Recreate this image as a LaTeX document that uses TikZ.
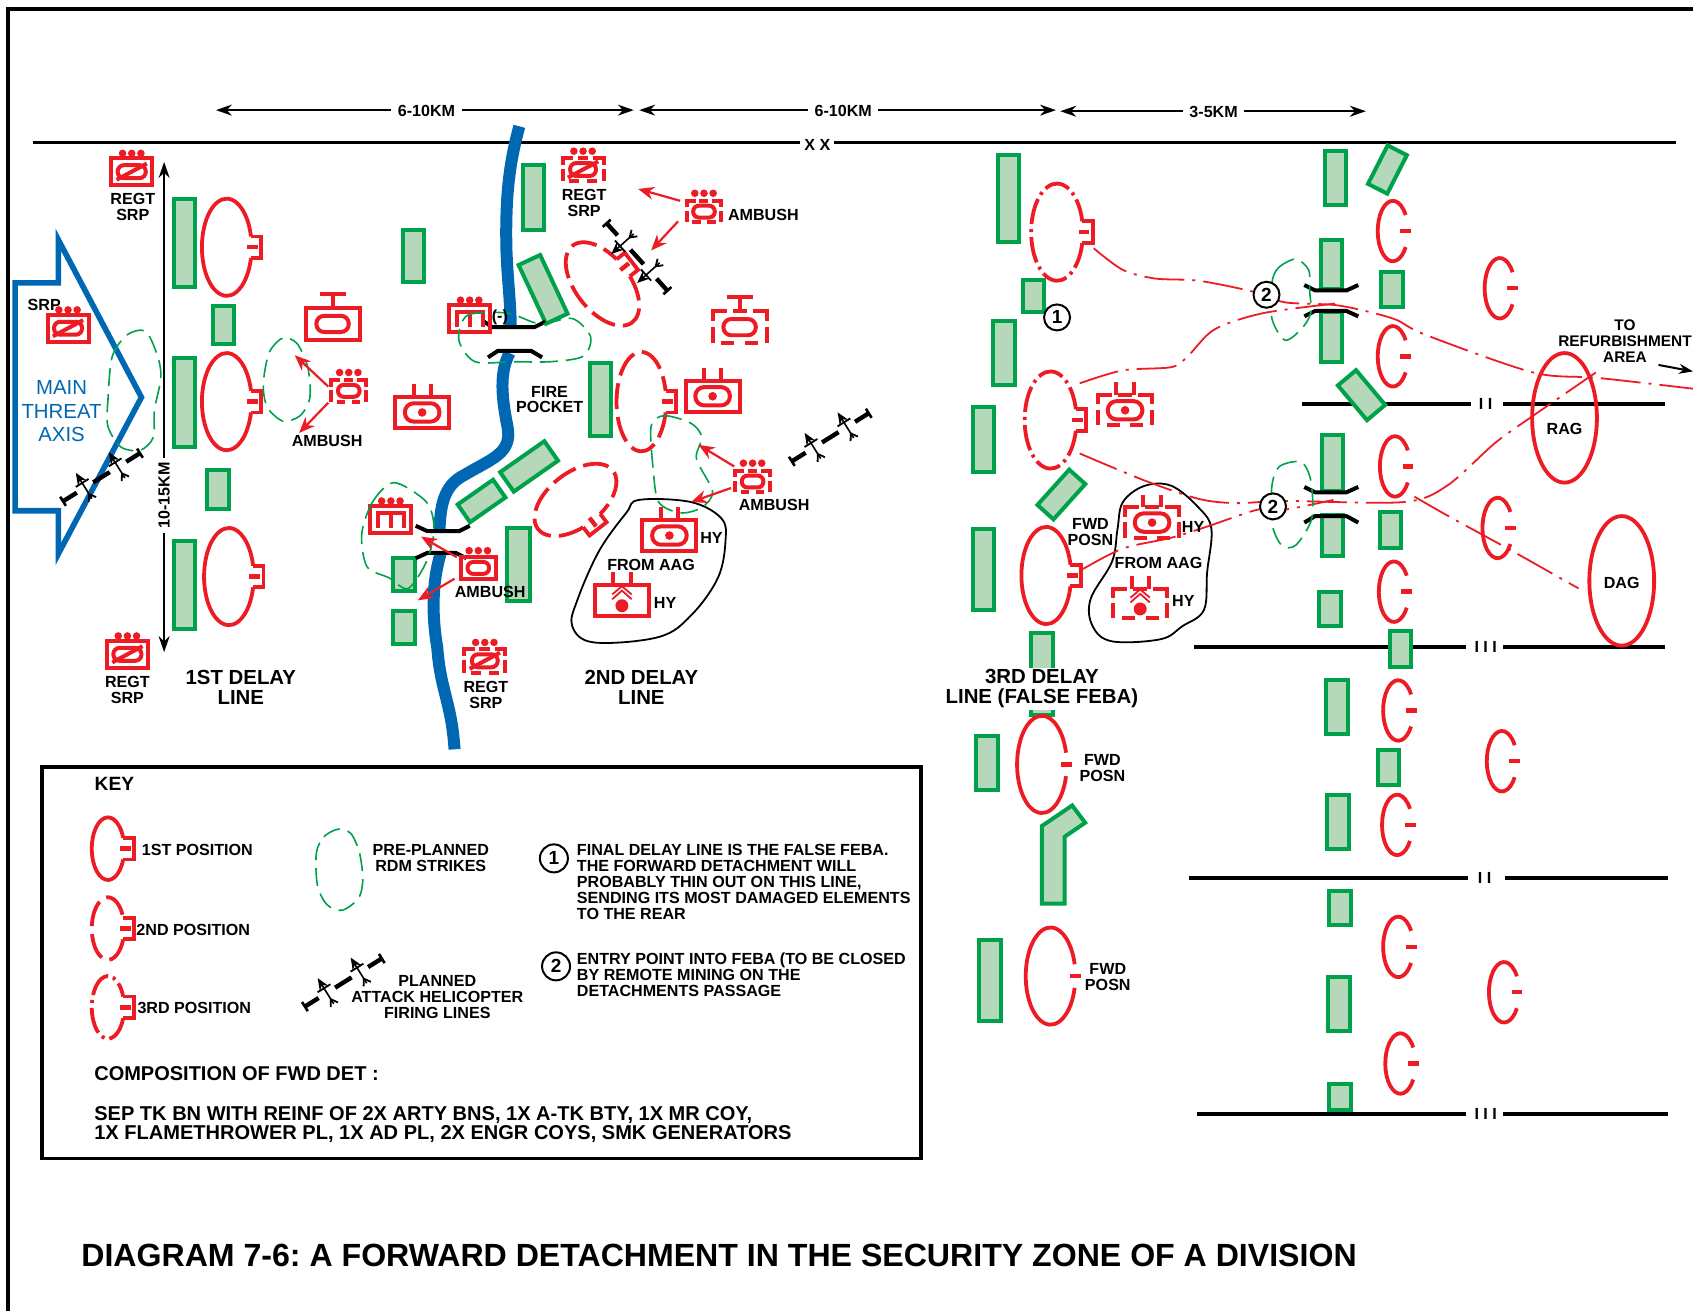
\documentclass[tikz,border=0pt]{standalone}
\usepackage{fontspec}
\setmainfont{Liberation Sans}
\usetikzlibrary{arrows.meta}
\definecolor{rr}{HTML}{ED1C24}
\definecolor{gg}{HTML}{00A14B}
\definecolor{gf}{HTML}{B6D8BA}
\definecolor{bb}{HTML}{0067B3}
\tikzset{
  gb/.style={draw=gg,fill=gf,line width=2pt},
  posline/.style={draw=rr,line width=1.9pt},
  soldash/.style={},
  pdash/.style={dash pattern=on 13pt off 4pt},
  pdot/.style={dash pattern=on 13pt off 2.5pt on 1.5pt off 2.5pt},
  route/.style={draw=rr,line width=.9pt,dash pattern=on 20pt off 4pt on 1.5pt off 4pt},
  rdm/.style={draw=gg,line width=.8pt,dash pattern=on 9pt off 4pt},
  blob/.style={draw=black,line width=.9pt},
  iconl/.style={draw=rr,line width=2pt},
  rarrow/.style={draw=rr,line width=1.1pt,-{Stealth[length=8pt,width=6.5pt]}},
  lab/.style={font=\bfseries\fontsize{8.05}{7.95}\selectfont,align=center,inner sep=0pt,text=black},
  bigl/.style={font=\bfseries\fontsize{10.2}{10}\selectfont,align=center,inner sep=0pt},
  dim/.style={draw=black,line width=.85pt},
  phase/.style={draw=black,line width=1.9pt},
  bridge/.style={draw=black,line width=2pt,line join=round},
  num/.style={draw=black,circle,fill=white,line width=1pt,inner sep=0pt,minimum size=13pt,font=\bfseries\fontsize{9.5}{9.5}\selectfont},
  river/.style={draw=bb,line width=6pt},
}
\newcommand\gbx[5]{\draw[gb,shift={(#1,#2)},rotate=#5] ({-#3/2},{-#4/2}) rectangle ({#3/2},{#4/2});}
\newcommand\posn[6]{\begin{scope}[shift={(#1,#2)},rotate=#5]
  \pgfmathsetmacro\ang{asin(10/#4)}
  \draw[posline,#6] ({#3*cos(\ang)},{10}) arc[x radius=#3,y radius=#4,start angle=\ang,delta angle={360-2*\ang}];
  \draw[posline] ({#3*cos(\ang)},-10) -- ({#3+9},-10) -- ({#3+9},10) -- ({#3*cos(\ang)},10);
  \draw[posline,line width=2.2pt] ({#3-4},0) -- ({#3+6},0);
\end{scope}}
\newcommand\cpos[4]{\begin{scope}[shift={(#1,#2)}]
  \draw[posline] ({#3*cos(32)},{#4*sin(32)}) arc[x radius=#3,y radius=#4,start angle=32,delta angle=296];
  \draw[posline,line width=2.2pt] ({#3-7},0) -- ({#3+3},0);
\end{scope}}
\newcommand\cbig[4]{\begin{scope}[shift={(#1,#2)}]
  \draw[posline] ({#3*cos(14)},{#4*sin(14)}) arc[x radius=#3,y radius=#4,start angle=14,delta angle=332];
  \draw[posline,line width=2.2pt] ({#3-5},0) -- ({#3+5},0);
\end{scope}}
\newcommand\sbx[2]{\draw[iconl] ({-#1/2},{-#2/2}) rectangle ({#1/2},{#2/2});}
\newcommand\dbx[2]{%
  \draw[iconl] ({-#1*.24},{-#2/2}) -- ({-#1/2},{-#2/2}) -- ({-#1/2},{-#2*.2});
  \draw[iconl] ({#1*.24},{-#2/2}) -- ({#1/2},{-#2/2}) -- ({#1/2},{-#2*.2});
  \draw[iconl] ({-#1/2},{-#2*.02}) -- ({-#1/2},{#2/2});
  \draw[iconl] ({#1/2},{-#2*.02}) -- ({#1/2},{#2/2});
  \draw[iconl] ({-#1*.34},{#2/2}) -- ({-#1*.1},{#2/2});
  \draw[iconl] ({#1*.34},{#2/2}) -- ({#1*.1},{#2/2});
  \draw[iconl] ({-#1*.13},{-#2/2}) -- ({#1*.13},{-#2/2});}
\newcommand\ioval[2]{\draw[iconl,rounded corners={#2*.26pt}] ({-#1/2},{-#2/2}) rectangle ({#1/2},{#2/2});}
\newcommand\idot[1]{\fill[rr] (0,0) circle[radius=#1];}
\newcommand\threedots[1]{\foreach \q in {-8.5,0,8.5}{\fill[rr] (\q,#1) circle[radius=3.5];}}
\newcommand\slashx{\draw[iconl] (-14,7.5) -- (14,-7.5);}
\newcommand\twin[1]{\draw[iconl] (-8,#1) -- (-8,{#1-12}); \draw[iconl] (8,#1) -- (8,{#1-12});}
\newcommand\tstem[1]{\draw[iconl] (0,#1) -- (0,{#1-13}); \draw[iconl] (-12,{#1-13}) -- (12,{#1-13});}
\newcommand\chev{\draw[rr,line width=.9pt] (-9,-1) -- (0,-9) -- (9,-1) (-9,-5.5) -- (0,-13) -- (9,-5.5); \fill[rr] (0,5) circle[radius=6];}
\newcommand\comb{\draw[iconl] (-12,8) -- (-12,-6) -- (12,-6) -- (12,8) (0,-6) -- (0,8);}
\newcommand\heli[3]{\begin{scope}[shift={(#1,#2)},rotate=#3]
  \draw[black,line width=2.2pt] (-42,0) -- (-27,0) (-9,0) -- (9,0) (27,0) -- (42,0);
  \draw[black,line width=1.3pt] (-42,-5) -- (-42,5) (42,-5) -- (42,5);
  \foreach \q in {-18,18}{
    \draw[black,line width=.8pt,-{Stealth[length=6pt,width=5pt]}] (\q,12) -- (\q,-16);
    \draw[black,line width=.9pt] (\q-7,-5) -- (\q+7,-5) (\q,7) -- (\q-4,13) (\q,7) -- (\q+4,13);}
\end{scope}}
\begin{document}
\frenchspacing
\begin{tikzpicture}[x=0.54pt,y=-0.54pt]
\useasboundingbox (0,0) rectangle (1568,1214);
\clip (0,0) rectangle (1568,1214);
% frame
\draw[black,line width=2pt] (7,1214) -- (7,8) -- (1568,8);
% XX line
\coordinate (xxl) at (31,132); \coordinate (xxr) at (1552,132);
\draw[phase] (xxl) -- (xxr);
% river
\draw[river] (481,117) .. controls (472,150) and (468,180) .. (469,230) .. controls (470,260) and (473,280) .. (473,303);
\draw[river] (472,327) .. controls (462,345) and (465,370) .. (470,395) .. controls (475,420) and (455,425) .. (430,440) .. controls (410,450) and (408,470) .. (407,491);
\draw[river] (408,513) .. controls (400,540) and (400,570) .. (405,600) .. controls (408,640) and (418,650) .. (421,694);
% phase lines
\foreach \nm/\ya/\xa/\xb/\xc/\xd/\tx/\lb in {a/374/1206/1362/1392/1542/1376/I I,b/599/1106/1358/1392/1542/1376/I I I,c/813/1101/1360/1394/1545/1375/I I,d/1032/1109/1358/1392/1545/1376/I I I}{
  \draw[phase] (\xa,\ya) -- (\xb,\ya) (\xc,\ya) -- (\xd,\ya);
  \node[lab] (ph\nm) at (\tx,\ya) {\lb};
}
% threat axis
\draw[draw=bb,line width=2.8pt,miter limit=8] (14,262) -- (54,262) -- (54,222) -- (131,368) -- (54,513) -- (54,473) -- (14,473) -- cycle;
\node[align=center,inner sep=0pt,text=bb,font=\fontsize{10.2}{11.8}\selectfont] (threat) at (57,381) {MAIN\\THREAT\\AXIS};
% green boxes 1st line
\gbx{171}{225}{20}{82}{0}\gbx{207}{301}{20}{36}{0}\gbx{171}{373}{20}{82}{0}\gbx{202}{453}{20}{36}{0}\gbx{171}{542}{20}{82}{0}
% 2nd line
\gbx{383}{237}{20}{48}{0}\gbx{494}{183}{20}{60}{0}\gbx{503}{268}{22}{60}{25}\gbx{556}{370}{20}{68}{0}
\gbx{490}{432}{22}{50}{-55}\gbx{446}{464}{20}{40}{-55}\gbx{480}{523}{21}{68}{0}\gbx{374}{532}{20}{30}{0}\gbx{374}{581}{20}{30}{0}
% 3rd line
\gbx{934}{184}{20}{80}{0}\gbx{957}{274}{20}{30}{0}\gbx{930}{327}{20}{60}{0}\gbx{911}{407}{20}{60}{0}\gbx{983}{458}{20}{44}{-42}\gbx{911}{527}{20}{75}{0}
\gbx{965}{624}{20}{76}{0}\gbx{914}{707}{20}{50}{0}\gbx{917}{908}{20}{75}{0}
\draw[gb] (965,765) -- (993,746) -- (1005,762) -- (986,775) -- (986,837) -- (965,837) -- cycle;
% mid columns
\gbx{1237}{165}{20}{50}{0}\gbx{1285}{157}{20}{40}{-27}\gbx{1233}{245}{20}{46}{0}\gbx{1233}{312}{20}{46}{0}\gbx{1289}{268}{20}{33}{0}\gbx{1261}{366}{22}{42}{40}
\gbx{1234}{429}{20}{52}{0}\gbx{1234}{496}{20}{38}{0}\gbx{1288}{491}{20}{33}{0}\gbx{1232}{564}{20}{32}{0}\gbx{1297}{601}{20}{33}{0}\gbx{1238}{655}{20}{50}{0}
\gbx{1286}{711}{20}{33}{0}\gbx{1239}{761}{20}{50}{0}\gbx{1241}{841}{20}{32}{0}\gbx{1240}{930}{20}{50}{0}\gbx{1241}{1016}{20}{25}{0}
% black blobs
\draw[blob] plot[smooth cycle,tension=.6] coordinates {(592,463) (640,465) (668,480) (672,500) (665,535) (640,570) (610,590) (550,595) (530,580) (535,555) (555,510) (580,475)};
\draw[blob] plot[smooth cycle,tension=.6] coordinates {(1060,450) (1085,450) (1110,470) (1122,490) (1118,530) (1115,565) (1095,580) (1075,592) (1030,594) (1012,580) (1010,555) (1030,520) (1035,490) (1040,465)};
% bridges
\draw[bridge] (447,297) -- (456,303) -- (495,303) -- (505,298);
\draw[bridge] (452,331) -- (461,325) -- (492,325) -- (502,331);
\draw[bridge] (385,487) -- (396,492) -- (425,492) -- (435,487);
\draw[bridge] (385,517) -- (396,512) -- (422,512) -- (432,517);
\draw[bridge] (1208,264) -- (1218,269) -- (1247,269) -- (1258,264);
\draw[bridge] (1208,293) -- (1218,288) -- (1247,288) -- (1258,293);
\draw[bridge] (1208,451) -- (1218,456) -- (1247,456) -- (1258,451);
\draw[bridge] (1208,484) -- (1218,478) -- (1247,478) -- (1258,484);
% positions 1st
\posn{210}{229}{23}{45}{0}{soldash}\posn{210}{372}{23}{45}{0}{soldash}\posn{212}{534}{23}{45}{0}{soldash}
% 2nd
\posn{558}{263}{25}{45}{38}{pdash}\posn{594}{372}{23}{46}{0}{pdash}\posn{533}{463}{25}{44}{-52}{pdash}
% 3rd
\posn{979}{215}{24}{45}{0}{pdot}\posn{973}{389}{24}{45}{0}{pdot}\posn{969}{533}{23}{45}{0}{soldash}
\cbig{965}{708}{23}{45}\cbig{973}{904}{23}{45}
% rear
\cpos{1290}{214}{14}{28}\cpos{1290}{330}{14}{28}\cpos{1292}{432}{14}{28}\cpos{1387}{489}{14}{28}\cpos{1291}{548}{14}{28}\cpos{1295}{658}{14}{28}\cpos{1294}{764}{14}{28}\cpos{1295}{877}{14}{28}\cpos{1297}{985}{14}{28}\cpos{1389}{267}{14}{28}\cpos{1391}{705}{14}{28}\cpos{1393}{919}{14}{28}
\draw[posline] (1449,387) ellipse[x radius=30,y radius=60];
\draw[posline] (1502,538) ellipse[x radius=30,y radius=60];
% routes
\draw[route] plot[smooth,tension=.5] coordinates {(1013,230) (1040,250) (1070,258) (1110,260) (1160,270) (1190,280) (1240,283) (1290,295) (1320,310) (1420,345) (1480,350) (1568,360)};
\draw[route] plot[smooth,tension=.5] coordinates {(1000,355) (1040,343) (1085,340) (1100,330) (1125,305) (1170,290) (1238,281)};
\draw[route] plot[smooth,tension=.5] coordinates {(1000,420) (1060,445) (1110,462) (1145,466) (1190,464) (1300,465) (1340,450) (1385,410) (1420,385) (1478,345)};
\draw[route] plot[smooth,tension=.5] coordinates {(1003,527) (1040,508) (1085,498) (1120,487) (1165,472) (1190,472) (1235,463)};
\draw[route] plot[smooth,tension=.5] coordinates {(1310,460) (1345,480) (1400,510) (1462,545)};
% icons: REGT SRP solid
\foreach \cx/\cy in {122/159,63/304,118/606}{\begin{scope}[shift={(\cx,\cy)}]\sbx{38}{25}\ioval{26}{12}\slashx\threedots{-17}\end{scope}}
% SRP dashed
\foreach \cx/\cy in {449/612,540/157}{\begin{scope}[shift={(\cx,\cy)}]\dbx{38}{22}\ioval{24}{12}\slashx\threedots{-17}\end{scope}}
% T stem solid / dashed
\begin{scope}[shift={(308,300)}]\sbx{50}{30}\ioval{30}{15}\tstem{-15}\end{scope}
\begin{scope}[shift={(685,303)}]\dbx{50}{30}\ioval{30}{15}\tstem{-15}\end{scope}
% twin-stem with dot
\foreach \cx/\cy in {391/382,660/367,620/496}{\begin{scope}[shift={(\cx,\cy)}]\sbx{50}{29}\ioval{32}{17}\idot{4}\twin{-14.5}\end{scope}}
\foreach \cx/\cy in {1042/380,1067/484}{\begin{scope}[shift={(\cx,\cy)}]\dbx{50}{28}\ioval{32}{17}\idot{4}\twin{-14}\end{scope}}
% chevrons
\begin{scope}[shift={(576,556)}]\sbx{50}{29}\chev\twin{-14.5}\end{scope}
\begin{scope}[shift={(1056,559)}]\dbx{50}{27}\chev\twin{-13.5}\end{scope}
% ambush dashed
\foreach \cx/\cy in {323/362,652/196,697/446}{\begin{scope}[shift={(\cx,\cy)}]\dbx{32}{20}\ioval{20}{11}\threedots{-17}\end{scope}}
% ambush solid
\begin{scope}[shift={(443,526)}]\sbx{32}{21}\ioval{20}{11}\threedots{-16}\end{scope}
% comb
\foreach \cx/\cy in {362/481,435/295}{\begin{scope}[shift={(\cx,\cy)}]\sbx{38}{25}\comb\threedots{-17}\end{scope}}
% RDM blobs
\draw[rdm] plot[smooth cycle] coordinates {(100,370) (104,330) (118,310) (135,307) (146,330) (149,350) (143,380) (142,405) (130,417) (112,414) (100,395)};
\draw[rdm] plot[smooth cycle] coordinates {(245,345) (250,325) (262,313) (275,318) (285,340) (287,368) (278,385) (262,390) (248,378) (244,362)};
\draw[rdm] plot[smooth cycle] coordinates {(425,315) (433,292) (470,290) (500,300) (530,295) (547,312) (540,330) (510,335) (475,335) (440,335)};
\draw[rdm] plot[smooth cycle] coordinates {(603,395) (615,385) (640,392) (650,405) (645,425) (660,455) (650,470) (630,475) (610,465) (605,435)};
\draw[rdm] plot[smooth cycle] coordinates {(335,495) (345,465) (365,447) (395,465) (402,490) (395,520) (378,545) (360,535) (340,525)};
\draw[rdm] plot[smooth cycle] coordinates {(293,790) (300,775) (313,768) (325,772) (333,790) (336,815) (332,832) (317,843) (303,838) (294,820)};
\draw[rdm] plot[smooth cycle] coordinates {(1178,262) (1184,248) (1200,240) (1212,250) (1213,270) (1214,290) (1205,305) (1190,315) (1178,295)};
\draw[rdm] plot[smooth cycle] coordinates {(1178,450) (1185,432) (1205,428) (1214,445) (1215,480) (1200,505) (1187,505) (1178,485)};
% red arrows
\coordinate (ab1) at (304,358); \coordinate (at1) at (273,329);
\coordinate (ab2) at (304,373); \coordinate (at2) at (277,401);
\coordinate (ab3) at (630,186); \coordinate (at3) at (591,175);
\coordinate (ab4) at (628,205); \coordinate (at4) at (603,232);
\coordinate (ab5) at (680,432); \coordinate (at5) at (647,412);
\coordinate (ab6) at (677,452); \coordinate (at6) at (640,465);
\coordinate (ab7) at (423,516); \coordinate (at7) at (390,497);
\coordinate (ab8) at (421,536); \coordinate (at8) at (387,556);
\foreach \n in {1,...,8}{\draw[rarrow] (ab\n) -- (at\n);}
% heli lines
\heli{94}{442}{32}\heli{769}{405}{32}\heli{590}{238}{132}\heli{318}{910}{32}
% dimension lines
\node[lab,inner sep=3pt] (d1) at (395,103) {6-10KM};
\node[lab,inner sep=3pt] (d2) at (781,103) {6-10KM};
\node[lab,inner sep=3pt] (d3) at (1124,104) {3-5KM};
\coordinate (d1a) at (200,102); \coordinate (d1b) at (587,102);
\coordinate (d2a) at (592,102); \coordinate (d2b) at (978,102);
\coordinate (d3a) at (982,103); \coordinate (d3b) at (1265,103);
\draw[dim,{Stealth[length=8pt,width=5.5pt]}-] (d1a) -- (d1.west |- d1a);
\draw[dim,-{Stealth[length=8pt,width=5.5pt]}] (d1.east |- d1b) -- (d1b);
\draw[dim,{Stealth[length=8pt,width=5.5pt]}-] (d2a) -- (d2.west |- d2a);
\draw[dim,-{Stealth[length=8pt,width=5.5pt]}] (d2.east |- d2b) -- (d2b);
\draw[dim,{Stealth[length=8pt,width=5.5pt]}-] (d3a) -- (d3.west |- d3a);
\draw[dim,-{Stealth[length=8pt,width=5.5pt]}] (d3.east |- d3b) -- (d3b);
\node[lab,rotate=90,inner sep=2pt] (d4) at (152,459) {10-15KM};
\coordinate (d4a) at (152,150); \coordinate (d4b) at (152,604);
\draw[dim,{Stealth[length=8pt,width=5.5pt]}-] (d4a) -- (d4.east);
\draw[dim,-{Stealth[length=8pt,width=5.5pt]}] (d4.west) -- (d4b);
% labels
\node[lab,fill=white,inner sep=2pt] (xx) at (757,134) {X X};
\node[lab] (r1) at (123,192) {REGT\\SRP};
\node[lab] (r2) at (118,639) {REGT\\SRP};
\node[lab] (r3) at (450,644) {REGT\\SRP};
\node[lab] (r4) at (541,188) {REGT\\SRP};
\node[lab] (s1) at (41,282) {SRP};
\node[lab] (am1) at (303,408) {AMBUSH};
\node[lab] (am2) at (707,199) {AMBUSH};
\node[lab] (am3) at (717,468) {AMBUSH};
\node[lab] (am4) at (454,548) {AMBUSH};
\node[bigl] (l1) at (223,637) {1ST DELAY\\LINE};
\node[bigl] (l2) at (594,637) {2ND DELAY\\LINE};
\node[bigl,fill=white,inner sep=1pt] (l3) at (965,638) {3RD DELAY\\LINE (FALSE FEBA)};
\node[lab] (fp) at (509,370) {FIRE\\POCKET};
\node[lab] (minus) at (463,294) {(-)};
\node[lab] (aag1) at (603,523) {FROM AAG};
\node[lab] (hy1) at (659,498) {HY};
\node[lab] (hy2) at (616,558) {HY};
\node[lab] (fw1) at (1010,493) {FWD\\POSN};
\node[lab] (hy3) at (1105,488) {HY};
\node[lab] (aag2) at (1073,521) {FROM AAG};
\node[lab] (hy4) at (1096,557) {HY};
\node[lab] (fw2) at (1021,711) {FWD\\POSN};
\node[lab] (fw3) at (1026,905) {FWD\\POSN};
\node[lab,font=\bfseries\fontsize{7.7}{7.95}\selectfont] (ref) at (1505,316) {TO\\REFURBISHMENT\\AREA};
\coordinate (refa) at (1536,338); \coordinate (refb) at (1568,344);
\draw[dim,line width=1pt,-{Stealth[length=7pt,width=5pt]}] (refa) -- (refb);
\node[lab] (rag) at (1449,397) {RAG};
\node[lab] (dag) at (1502,540) {DAG};
\node[num] (n1) at (979,294) {1};
\node[num] (n2a) at (1173,273) {2};
\node[num] (n2b) at (1179,469) {2};
% key
\draw[black,line width=1.9pt] (39,710) rectangle (853,1073);
\node[bigl,font=\bfseries\fontsize{9.6}{9.6}\selectfont] (key) at (106,726) {KEY};
\posn{100}{786}{15}{29}{0}{soldash}\posn{100}{860}{15}{29}{0}{pdash}\posn{100}{933}{15}{29}{0}{pdot}
\node[lab,anchor=west] (k1) at (131,787) {1ST POSITION};
\node[lab,anchor=west] (k2) at (126,861) {2ND POSITION};
\node[lab,anchor=west] (k3) at (127,934) {3RD POSITION};
\node[lab] (k4) at (399,795) {PRE-PLANNED\\RDM STRIKES};
\node[lab] (k5) at (405,923.5) {PLANNED\\ATTACK HELICOPTER\\FIRING LINES};
\node[num,minimum size=14pt] (k6) at (513,795) {1};
\node[num,minimum size=14pt] (k7) at (515,895) {2};
\node[lab,anchor=north west,align=left] (k8) at (534,781.5) {FINAL DELAY LINE IS THE FALSE FEBA.\\THE FORWARD DETACHMENT WILL\\PROBABLY THIN OUT ON THIS LINE,\\SENDING ITS MOST DAMAGED ELEMENTS\\TO THE REAR};
\node[lab,anchor=north west,align=left] (k9) at (534,882) {ENTRY POINT INTO FEBA (TO BE CLOSED\\BY REMOTE MINING ON THE\\DETACHMENTS PASSAGE};
\node[anchor=west,inner sep=0pt,font=\bfseries\fontsize{10}{10}\selectfont] (k10) at (87,994) {COMPOSITION OF FWD DET :};
\node[anchor=north west,align=left,inner sep=0pt,font=\bfseries\fontsize{10.02}{9.8}\selectfont] (k11) at (87,1024) {SEP TK BN WITH REINF OF 2X ARTY BNS, 1X A-TK BTY, 1X MR COY,\\1X FLAMETHROWER PL, 1X AD PL, 2X ENGR COYS, SMK GENERATORS};
\node[anchor=west,inner sep=0pt,font=\bfseries\fontsize{16.05}{16}\selectfont] (title) at (75,1163) {DIAGRAM 7-6: A FORWARD DETACHMENT IN THE SECURITY ZONE OF A DIVISION};
\end{tikzpicture}
\end{document}
